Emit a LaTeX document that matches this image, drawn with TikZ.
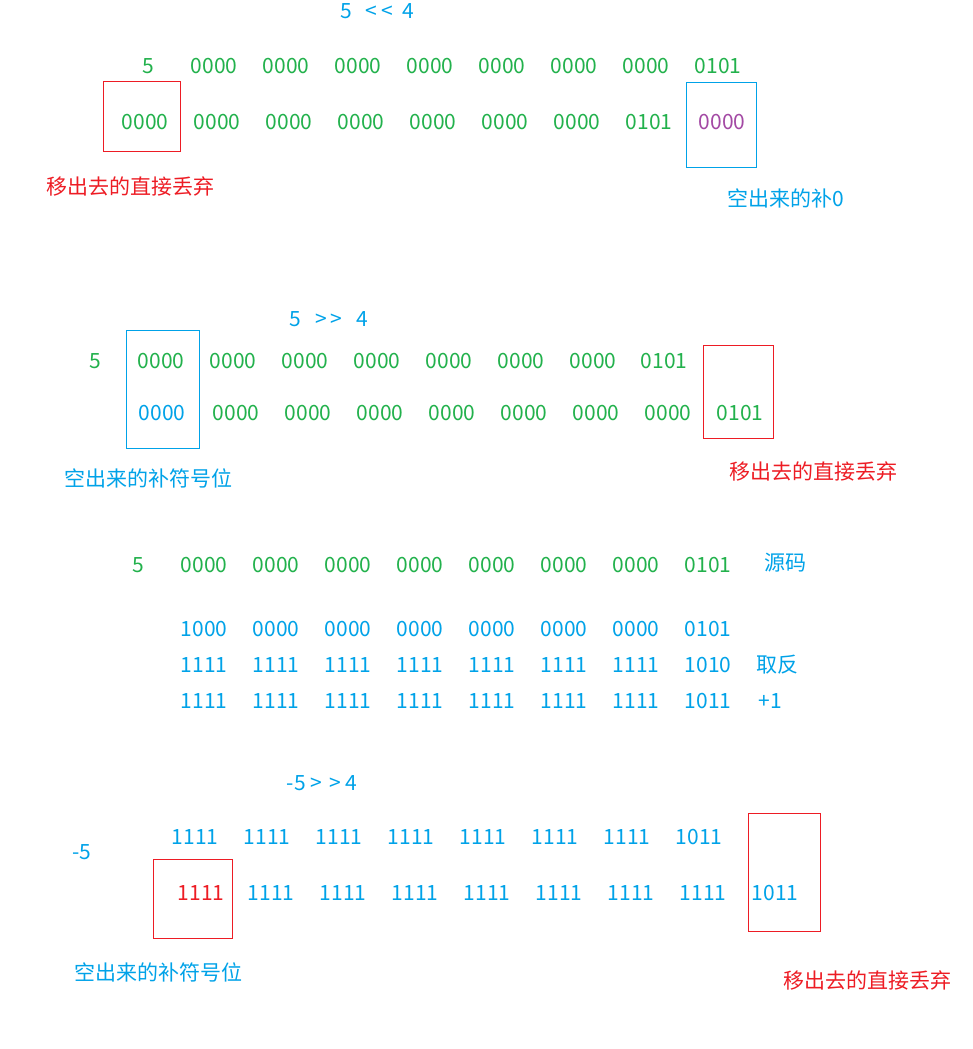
\documentclass[tikz,border=0pt]{standalone}
\usepackage{fontspec}
\setmainfont{Noto Sans CJK SC}
\definecolor{bgreen}{RGB}{34,177,76}
\definecolor{bblue}{RGB}{0,162,232}
\definecolor{bred}{RGB}{237,28,36}
\definecolor{bpurple}{RGB}{163,73,164}
\tikzset{
  bits/.style={inner sep=0pt,font=\fontsize{21}{23}\selectfont},
  note/.style={inner sep=0pt,font=\fontsize{21}{23}\selectfont},
  redbox/.style={draw=bred,line width=1pt},
  bluebox/.style={draw=bblue,line width=1pt}
}
\begin{document}
\begin{tikzpicture}[x=1pt,y=-1pt,every node/.style={bits}]
\useasboundingbox (0,0) rectangle (973,1049);

% 5 << 4
\node[text=bblue] (lshift) at (377,11) {5\ \ \ <\,<\ \ 4};
\node[text=bgreen] (la5) at (148,66) {5};
\foreach \x [count=\i] in {214,286,358,430,502,574,646}
  \node[text=bgreen] (la\i) at (\x,66) {0000};
\node[text=bgreen] (la8) at (718,66) {0101};
\foreach \x [count=\i] in {145,217,289,361,433,505,577}
  \node[text=bgreen] (lb\i) at (\x,122) {0000};
\node[text=bgreen] (lb8) at (649,122) {0101};
\node[text=bpurple] (lb9) at (722,122) {0000};
\draw[redbox] (103,81) rectangle (180,151);
\draw[bluebox] (686,82) rectangle (756,167);
\node[note,text=bred] (ldrop) at (130,186) {移出去的直接丢弃};
\node[note,text=bblue] (lfill) at (786,198) {空出来的补0};

% 5 >> 4
\node[text=bblue] (rshift) at (329,319) {5\ \ \ >\,>\ \ \ 4};
\node[text=bgreen] (ra5) at (95,361) {5};
\foreach \x [count=\i] in {161,233,305,377,449,521,593}
  \node[text=bgreen] (ra\i) at (\x,361) {0000};
\node[text=bgreen] (ra8) at (664,361) {0101};
\node[text=bblue] (rb1) at (162,413) {0000};
\foreach \x [count=\i from 2] in {236,308,380,452,524,596,668}
  \node[text=bgreen] (rb\i) at (\x,413) {0000};
\node[text=bgreen] (rb9) at (740,413) {0101};
\draw[bluebox] (126,330) rectangle (199,448);
\draw[redbox] (703,345) rectangle (773,438);
\node[note,text=bblue] (rfill) at (148,478) {空出来的补符号位};
\node[note,text=bred] (rdrop) at (813,471) {移出去的直接丢弃};

% -5 complement
\node[text=bgreen] (c5) at (138,565) {5};
\foreach \x [count=\i] in {204,276,348,420,492,564,636}{
  \node[text=bgreen] (src\i) at (\x,565) {0000};
  \node[text=bblue] (neg\i) at (\x,629) {\ifnum\i=1 1000\else 0000\fi};
  \node[text=bblue] (inv\i) at (\x,665) {1111};
  \node[text=bblue] (cmp\i) at (\x,701) {1111};
}
\node[text=bgreen] (src8) at (708,565) {0101};
\node[text=bblue] (neg8) at (708,629) {0101};
\node[text=bblue] (inv8) at (708,665) {1010};
\node[text=bblue] (cmp8) at (708,701) {1011};
\node[note,text=bblue] (srcname) at (785,563) {源码};
\node[note,text=bblue] (invname) at (777,665) {取反};
\node[note,text=bblue] (cmpname) at (770,701) {+1};

% -5 >> 4
\node[text=bblue] (nshift) at (322,783) {-5\ >\,\,>\ 4};
\node[text=bblue] (na5) at (82,852) {-5};
\foreach \x [count=\i] in {195,267,339,411,483,555,627}
  \node[text=bblue] (na\i) at (\x,837) {1111};
\node[text=bblue] (na8) at (699,837) {1011};
\node[text=bred] (nb1) at (201,893) {1111};
\foreach \x [count=\i from 2] in {271,343,415,487,559,631,703}
  \node[text=bblue] (nb\i) at (\x,893) {1111};
\node[text=bblue] (nb9) at (775,893) {1011};
\draw[redbox] (153,859) rectangle (232,938);
\draw[redbox] (748,813) rectangle (820,931);
\node[note,text=bblue] (nfill) at (158,972) {空出来的补符号位};
\node[note,text=bred] (ndrop) at (867,980) {移出去的直接丢弃};
\end{tikzpicture}
\end{document}
